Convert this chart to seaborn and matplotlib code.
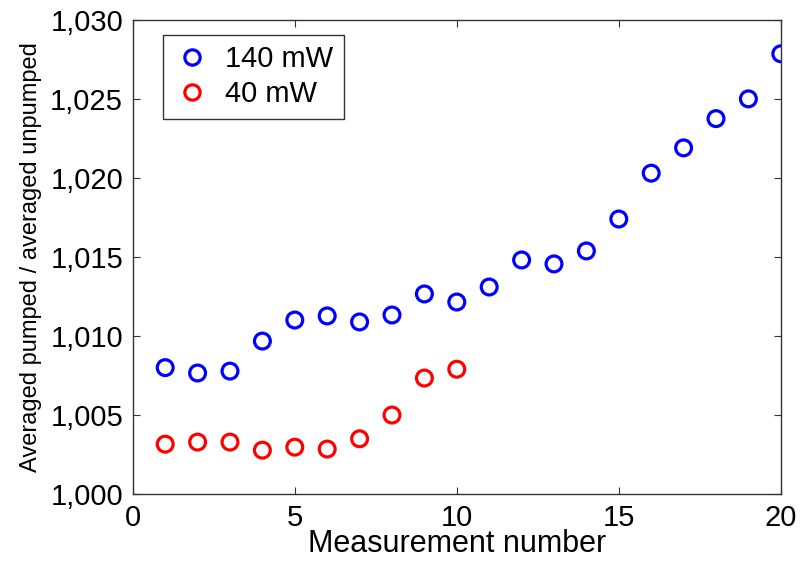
import pandas as pd
import seaborn as sns
import matplotlib.pyplot as plt

# Values
measure_140 = list(range(1, 21))
ratio_140 = [1.0080, 1.00766, 1.00778, 1.00968, 1.01101, 1.01127, 1.01089, 1.01133,
             1.01266, 1.01215, 1.01310, 1.01481, 1.01456, 1.01538, 1.01740, 1.02030,
             1.02190, 1.02375, 1.02500, 1.02785]
measure_40 = list(range(1, 11))
ratio_40 = [1.00316, 1.00329, 1.00329, 1.00278, 1.00297, 1.00285, 1.00350, 1.00500,
            1.00734, 1.00790]
labels = ["140 mW", "40 mW"]
colors = ["#0000ff", "#ff0000"]

df140 = pd.DataFrame({"x": measure_140, "y": ratio_140})
df40 = pd.DataFrame({"x": measure_40, "y": ratio_40})

sns.set_style("ticks")
plt.rcParams["font.family"] = ["Liberation Sans", "DejaVu Sans"]
plt.rcParams["text.color"] = "black"
plt.rcParams["axes.labelcolor"] = "black"
plt.rcParams["xtick.color"] = "black"
plt.rcParams["ytick.color"] = "black"

fig = plt.figure(figsize=(8, 5.66), dpi=100)
ax = fig.add_axes([0.166, 0.127, 0.81, 0.838])

# hollow circles, one call per series
for d, c, lab in zip([df140, df40], colors, labels):
    sns.scatterplot(data=d, x="x", y="y", marker="o", s=130, facecolor="none",
                    edgecolor=c, linewidth=2.3, label=lab, ax=ax, legend=False)

ax.set_xlim(0, 20)
ax.set_ylim(1.000, 1.030)
ax.set_xticks([0, 5, 10, 15, 20])
ax.set_yticks([1.000, 1.005, 1.010, 1.015, 1.020, 1.025, 1.030])
ax.set_yticklabels(["1,000", "1,005", "1,010", "1,015", "1,020", "1,025", "1,030"])
ax.tick_params(direction="in", top=True, right=True, labelsize=21, length=5,
               width=0.8, color="#333333", pad=7)
for sp in ax.spines.values():
    sp.set_visible(True)
    sp.set_color("#333333")
    sp.set_linewidth(1.0)

ax.set_xlabel("Measurement number", fontsize=22, labelpad=-2)
ax.set_ylabel("Averaged pumped / averaged unpumped", fontsize=17, labelpad=6)

handles = [plt.Line2D([], [], marker="o", linestyle="none", markersize=11,
                      markerfacecolor="none", markeredgecolor=c, markeredgewidth=2.3)
           for c in colors]
leg = ax.legend(handles, labels, loc="upper left", bbox_to_anchor=(0.046, 0.968),
                borderaxespad=0, fontsize=21, frameon=True, fancybox=False,
                edgecolor="black", handletextpad=0.5, borderpad=0.35,
                labelspacing=0.25, handlelength=1.3)
leg.get_frame().set_linewidth(1.0)

fig.savefig("out.png", dpi=100)
